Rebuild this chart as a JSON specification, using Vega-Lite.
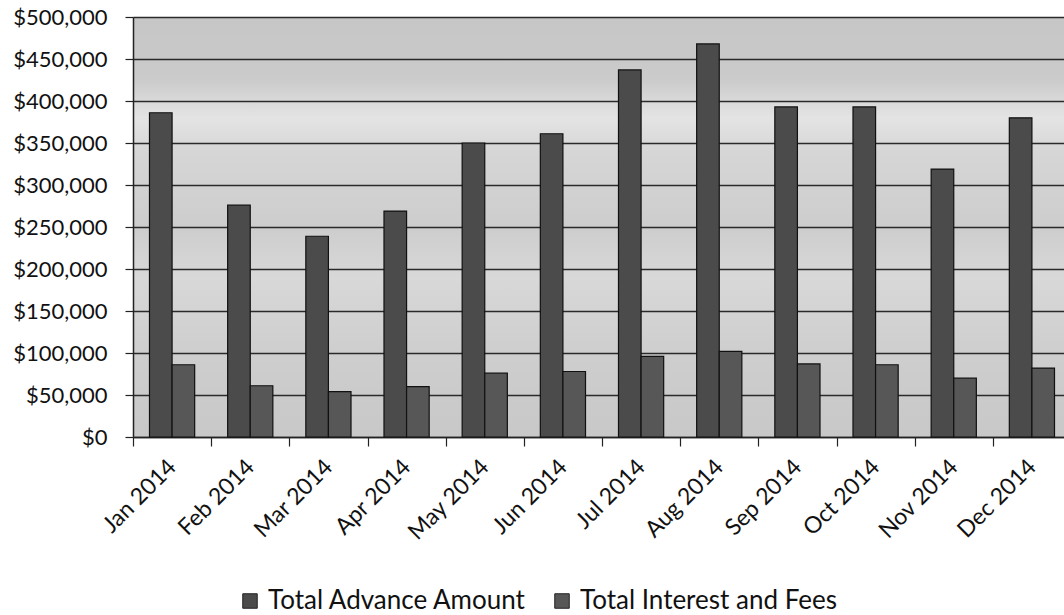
{
  "$schema": "https://vega.github.io/schema/vega-lite/v6.json",
  "autosize": "none",
  "width": 938,
  "height": 420,
  "padding": {"left": 133, "top": 17, "right": 0, "bottom": 178},
  "background": "#ffffff",
  "data": {
    "values": [
      {"month": "Jan 2014", "series": "Total Advance Amount", "value": 386000},
      {"month": "Jan 2014", "series": "Total Interest and Fees", "value": 86000},
      {"month": "Feb 2014", "series": "Total Advance Amount", "value": 276000},
      {"month": "Feb 2014", "series": "Total Interest and Fees", "value": 61000},
      {"month": "Mar 2014", "series": "Total Advance Amount", "value": 239000},
      {"month": "Mar 2014", "series": "Total Interest and Fees", "value": 54000},
      {"month": "Apr 2014", "series": "Total Advance Amount", "value": 269000},
      {"month": "Apr 2014", "series": "Total Interest and Fees", "value": 60000},
      {"month": "May 2014", "series": "Total Advance Amount", "value": 350000},
      {"month": "May 2014", "series": "Total Interest and Fees", "value": 76000},
      {"month": "Jun 2014", "series": "Total Advance Amount", "value": 361000},
      {"month": "Jun 2014", "series": "Total Interest and Fees", "value": 78000},
      {"month": "Jul 2014", "series": "Total Advance Amount", "value": 437000},
      {"month": "Jul 2014", "series": "Total Interest and Fees", "value": 96000},
      {"month": "Aug 2014", "series": "Total Advance Amount", "value": 468000},
      {"month": "Aug 2014", "series": "Total Interest and Fees", "value": 102000},
      {"month": "Sep 2014", "series": "Total Advance Amount", "value": 393000},
      {"month": "Sep 2014", "series": "Total Interest and Fees", "value": 87000},
      {"month": "Oct 2014", "series": "Total Advance Amount", "value": 393000},
      {"month": "Oct 2014", "series": "Total Interest and Fees", "value": 86000},
      {"month": "Nov 2014", "series": "Total Advance Amount", "value": 319000},
      {"month": "Nov 2014", "series": "Total Interest and Fees", "value": 70000},
      {"month": "Dec 2014", "series": "Total Advance Amount", "value": 380000},
      {"month": "Dec 2014", "series": "Total Interest and Fees", "value": 82000}
    ]
  },
  "mark": {"type": "bar", "stroke": "#111111", "strokeWidth": 1.2},
  "encoding": {
    "x": {
      "field": "month",
      "type": "nominal",
      "sort": null,
      "scale": {"paddingInner": 0, "paddingOuter": 0},
      "axis": {
        "title": null,
        "labelAngle": -45,
        "labelAlign": "right",
        "labelBaseline": "middle",
        "labelFont": "Lato",
        "labelFontSize": 23,
        "labelColor": "#111111",
        "labelPadding": 17,
        "tickBand": "extent",
        "tickSize": 9,
        "tickColor": "#222222",
        "tickWidth": 1.2,
        "domainColor": "#222222",
        "domainWidth": 1.5,
        "grid": false
      }
    },
    "xOffset": {
      "field": "series",
      "type": "nominal",
      "sort": ["Total Advance Amount", "Total Interest and Fees"],
      "scale": {"paddingInner": 0, "paddingOuter": 0.73}
    },
    "y": {
      "field": "value",
      "type": "quantitative",
      "scale": {"domain": [0, 500000], "nice": false},
      "axis": {
        "title": null,
        "values": [0, 50000, 100000, 150000, 200000, 250000, 300000, 350000, 400000, 450000, 500000],
        "format": "$,.0f",
        "labelFont": "Lato",
        "labelFontSize": 22,
        "labelColor": "#111111",
        "labelPadding": 18,
        "tickSize": 8,
        "tickColor": "#222222",
        "tickWidth": 1.2,
        "domainColor": "#222222",
        "domainWidth": 1.5,
        "grid": true,
        "gridColor": "#2a2a2a",
        "gridWidth": 1.4
      }
    },
    "fill": {
      "field": "series",
      "type": "nominal",
      "sort": ["Total Advance Amount", "Total Interest and Fees"],
      "scale": {"range": ["#4b4b4b", "#575757"]},
      "legend": {
        "title": null,
        "orient": "none",
        "direction": "horizontal",
        "legendX": 104,
        "legendY": 571,
        "symbolType": "square",
        "symbolSize": 210,
        "symbolStrokeColor": "#222222",
        "symbolStrokeWidth": 1,
        "symbolOpacity": 1,
        "labelFont": "Lato",
        "labelFontSize": 26,
        "labelColor": "#111111",
        "labelLimit": 400,
        "columnPadding": 22,
        "symbolOffset": 0,
        "labelOffset": 5
      }
    }
  },
  "config": {
    "view": {
      "stroke": null,
      "fill": {
        "gradient": "linear",
        "x1": 0, "y1": 0, "x2": 0, "y2": 1,
        "stops": [
          {"offset": 0, "color": "#c6c6c6"},
          {"offset": 0.15, "color": "#cbcbcb"},
          {"offset": 0.24, "color": "#e4e4e4"},
          {"offset": 0.32, "color": "#d6d6d6"},
          {"offset": 0.5, "color": "#cdcdcd"},
          {"offset": 0.62, "color": "#d8d8d8"},
          {"offset": 0.8, "color": "#cecece"},
          {"offset": 1, "color": "#c8c8c8"}
        ]
      }
    }
  }
}
